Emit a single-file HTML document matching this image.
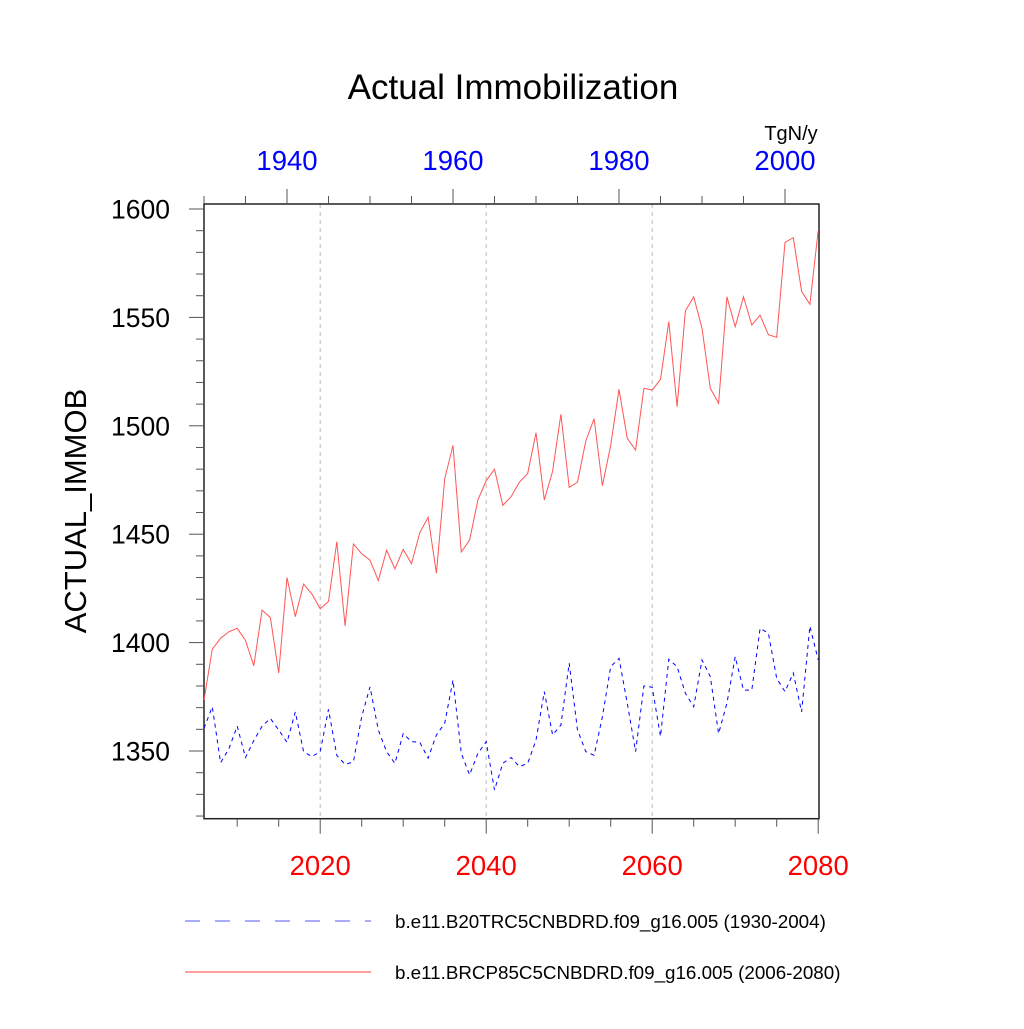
<!DOCTYPE html>
<html><head><meta charset="utf-8"><style>
html,body{margin:0;padding:0;background:#fff}
svg text{font-family:"Liberation Sans",sans-serif}
</style></head><body>
<svg id="chart" width="1024" height="1024" xmlns="http://www.w3.org/2000/svg">
<rect width="1024" height="1024" fill="#fff"/>
<text x="513" y="99" font-size="35" text-anchor="middle">Actual Immobilization</text>
<text x="791" y="140" font-size="20" text-anchor="middle">TgN/y</text>
<text transform="translate(86,511) rotate(-90)" font-size="31" text-anchor="middle">ACTUAL_IMMOB</text>
<g id="grid"></g><g id="axes"></g><g id="series"></g>
<g>
<line x1="185" y1="921" x2="371" y2="921" stroke="#7777ff" stroke-width="1.2" stroke-dasharray="15,15"/>
<text x="395" y="928" font-size="18.8">b.e11.B20TRC5CNBDRD.f09_g16.005 (1930-2004)</text>
<line x1="185" y1="972" x2="371" y2="972" stroke="#ff6666" stroke-width="1.2"/>
<text x="395" y="979" font-size="18.8">b.e11.BRCP85C5CNBDRD.f09_g16.005 (2006-2080)</text>
</g>
</svg>
<script>
const yearsRed=[];for(let y=2006;y<=2080;y++)yearsRed.push(y);
const yearsBlue=[];for(let y=1930;y<=2004;y++)yearsBlue.push(y);
const redValues=[1373.5,1397,1402,1405,1406.6,1401,1389.3,1415,1411.5,1386,1430,1412,1427,1422.4,1415.6,1419,1446.5,1407.7,1445.5,1441,1438,1428.6,1442.6,1434,1443,1436.4,1450.7,1457.8,1432,1475.5,1491,1441.8,1447.3,1465.8,1474.7,1480,1463.3,1467.3,1474,1478,1496.8,1465.8,1479,1505.3,1471.6,1474,1493,1503.3,1472.4,1491,1516.8,1494.2,1488.8,1517.3,1516.5,1521.4,1548,1508.8,1553,1559.5,1545,1517.3,1510.4,1559.5,1545.7,1559.5,1546.5,1551,1542,1540.8,1584.6,1586.8,1562,1556,1590];
const blueValues=[1360.5,1370.4,1344.6,1351,1361.5,1347,1354.8,1361.5,1365,1359.7,1354,1368,1349.7,1347.4,1349.7,1369.2,1348,1343.8,1345,1365.8,1379.6,1359.7,1349.7,1344.3,1358,1354.3,1354,1346.7,1357.4,1362.8,1382.7,1348.9,1339,1348.9,1354.3,1332,1344.3,1347,1342.8,1344.3,1355,1377.4,1357.4,1362,1390.5,1359.7,1349.7,1348,1365.8,1388.9,1392.7,1372,1349.7,1380,1379.4,1356.7,1392.3,1388.9,1376.6,1370.4,1392,1384.3,1358,1372,1393.5,1378.1,1378.1,1406.6,1404.3,1383.5,1377.4,1386,1368,1407.6,1392];
const yTicks=[1350,1400,1450,1500,1550,1600];
const bottomTicks=[2020,2040,2060,2080];
const topTicks=[1940,1960,1980,2000];

const L=204,R=819,T=204,B=818.7;
const xb=y=>L+(y-2006)*8.3;
const xt=y=>L+(y-1930)*8.3;
const yv=v=>209+(1600-v)*2.168;
const NS="http://www.w3.org/2000/svg";
function mk(tag,attrs,parent){const e=document.createElementNS(NS,tag);for(const k in attrs)e.setAttribute(k,attrs[k]);parent.appendChild(e);return e;}
const grid=document.getElementById('grid'),axes=document.getElementById('axes'),series=document.getElementById('series');
for(const t of [2020,2040,2060]){
 const g=mk('line',{x1:xb(t),x2:xb(t),y1:T,y2:B,stroke:'#bbb','stroke-width':1,'stroke-dasharray':'4,4'},grid);
 
 
}
const frame=mk('rect',{x:L,y:T,width:R-L,height:B-T,fill:'none',stroke:'#222','stroke-width':1.5},axes);


for(let v=1320;v<=1600;v+=10){
 const major=v%50===0;
 const tk=mk('line',{x1:L-(major?15:8),x2:L,y1:yv(v),y2:yv(v),stroke:'#555','stroke-width':1},axes);
 
 
}
for(const v of yTicks){
 const t=mk('text',{x:170,y:yv(v)+9.5,'font-size':26.5,'text-anchor':'end'},axes);t.textContent=v;
 
 
}
for(let y=2010;y<=2080;y+=5){
 const major=y%20===0;
 const tk=mk('line',{x1:xb(y),x2:xb(y),y1:B,y2:B+(major?15:8),stroke:'#555','stroke-width':1},axes);
 
 
}
for(const y of bottomTicks){
 const t=mk('text',{x:xb(y),y:875,'font-size':27.5,'text-anchor':'middle',fill:'#ff0000'},axes);t.textContent=y;
 
 
}
for(let y=1930;y<=2004;y+=5){
 const major=y%20===0;
 const tk=mk('line',{x1:xt(y),x2:xt(y),y1:T,y2:T-(major?15:8),stroke:'#555','stroke-width':1},axes);
 
 
}
for(const y of topTicks){
 const t=mk('text',{x:xt(y),y:170,'font-size':27.5,'text-anchor':'middle',fill:'#0000ff'},axes);t.textContent=y;
 
 
}
const bp=mk('polyline',{points:blueValues.map((v,i)=>xt(yearsBlue[i])+','+yv(v)).join(' '),fill:'none',stroke:'#0000ff','stroke-width':1,'stroke-dasharray':'4,4'},series);


const rp=mk('polyline',{points:redValues.map((v,i)=>xb(yearsRed[i])+','+yv(v)).join(' '),fill:'none',stroke:'#ff5555','stroke-width':1},series);


</script>
</body></html>
